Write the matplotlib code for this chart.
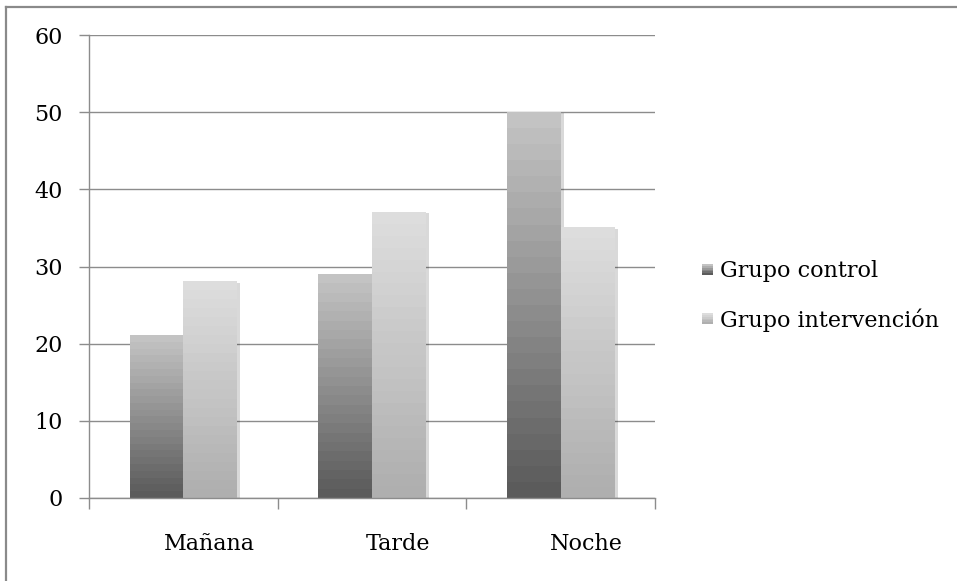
import numpy as np
import matplotlib
matplotlib.use("Agg")
import matplotlib.pyplot as plt
from matplotlib.colors import LinearSegmentedColormap
from matplotlib.legend_handler import HandlerBase
from matplotlib.patches import Rectangle
from matplotlib.lines import Line2D
from matplotlib.transforms import ScaledTranslation
import matplotlib.patheffects as pe

# Data
categories = ["Mañana", "Tarde", "Noche"]
series_names = ["Grupo control", "Grupo intervención"]
grupo_control = [21, 29, 50]
grupo_intervencion = [28, 37, 35]
y_ticks = [0, 10, 20, 30, 40, 50, 60]

# Gradient colours (bottom, top) per series
grad_colors = [("#5b5b5b", "#c3c3c3"), ("#afafaf", "#dddddd")]
N_BANDS = 24

plt.rcParams["font.family"] = ["DejaVu Serif"]

fig = plt.figure(figsize=(9.57, 5.81), dpi=100)
ax = fig.add_axes([89 / 957, 1 - 498 / 581, (655 - 89) / 957, (498 - 35) / 581])

x = np.arange(len(categories))
bw = 0.284
series = [grupo_control, grupo_intervencion]
offsets = [-bw / 2, bw / 2]

grid_col = "#8c8c8c"
ax.set_xlim(-0.5, len(categories) - 0.5)
ax.set_ylim(0, 60)
ax.set_yticks(y_ticks)
ax.yaxis.grid(True, color=grid_col, linewidth=1.0)
ax.set_axisbelow(True)

for vals, off, (c0, c1) in zip(series, offsets, grad_colors):
    cmap = LinearSegmentedColormap.from_list("g", [c0, c1])
    bars = ax.bar(x + off, vals, width=bw, color="#bbbbbb", linewidth=0, zorder=2,
                  path_effects=[pe.SimplePatchShadow(offset=(2.5, -0.5), shadow_rgbFace="#000000", alpha=0.15),
                                pe.Normal()])
    for b in bars:
        x0, y0 = b.get_x(), b.get_y()
        w, h = b.get_width(), b.get_height()
        grad = np.linspace(0, 1, N_BANDS)[::-1].reshape(-1, 1)
        ax.imshow(grad, extent=[x0, x0 + w, y0, y0 + h], cmap=cmap, aspect="auto",
                  interpolation="nearest", zorder=3, origin="upper")

ax.set_xlim(-0.5, len(categories) - 0.5)
ax.set_ylim(0, 60)

for s in ["top", "right"]:
    ax.spines[s].set_visible(False)
for s in ["left", "bottom"]:
    ax.spines[s].set_color(grid_col)
    ax.spines[s].set_linewidth(1.0)
    ax.spines[s].set_zorder(4)

# category boundary ticks (major) and labelled centres (minor)
ax.set_xticks(np.arange(-0.5, len(categories), 1.0))
ax.set_xticklabels([])
ax.set_xticks(x, minor=True)
ax.set_xticklabels(categories, minor=True)
ax.tick_params(axis="x", which="major", length=8, width=1, color=grid_col, direction="out")
ax.tick_params(axis="x", which="minor", length=0, pad=25, labelsize=16)
ax.tick_params(axis="y", length=7, width=1, color=grid_col, direction="out", pad=12, labelsize=16)
for lbl in ax.get_xticklabels(minor=True):
    lbl.set_transform(lbl.get_transform() + ScaledTranslation(26 / 100, 0, fig.dpi_scale_trans))


class GradientHandler(HandlerBase):
    def __init__(self, c0, c1, n=6):
        super().__init__()
        self.cmap = LinearSegmentedColormap.from_list("h", [c0, c1])
        self.n = n

    def create_artists(self, legend, orig_handle, xdescent, ydescent, width, height, fontsize, trans):
        side = min(width, height * 1.0)
        x0 = -xdescent
        y0 = -ydescent + (height - side) / 2
        arts = []
        for i in range(self.n):
            r = Rectangle((x0, y0 + side * i / self.n), side, side / self.n,
                          facecolor=self.cmap(i / (self.n - 1)), edgecolor="none",
                          transform=trans)
            arts.append(r)
        return arts


h1 = Rectangle((0, 0), 1, 1)
h2 = Rectangle((0, 0), 1, 1)
leg = fig.legend([h1, h2], series_names, loc="center left",
                 bbox_to_anchor=(682 / 957, 1 - 296 / 581), frameon=False,
                 fontsize=16, handlelength=0.5, handleheight=0.5, handletextpad=0.3,
                 labelspacing=1.15,
                 handler_map={h1: GradientHandler(*grad_colors[0]),
                              h2: GradientHandler(*grad_colors[1])})

# outer frame (top and left edges)
frame_col = "#8a8a8a"
fig.add_artist(Line2D([5.5 / 957, 1.0], [1 - 6.5 / 581, 1 - 6.5 / 581],
                      transform=fig.transFigure, color=frame_col, linewidth=1.6))
fig.add_artist(Line2D([5.5 / 957, 5.5 / 957], [0.0, 1 - 6.5 / 581],
                      transform=fig.transFigure, color=frame_col, linewidth=1.6))

fig.savefig("out.png", dpi=100, facecolor="white")
